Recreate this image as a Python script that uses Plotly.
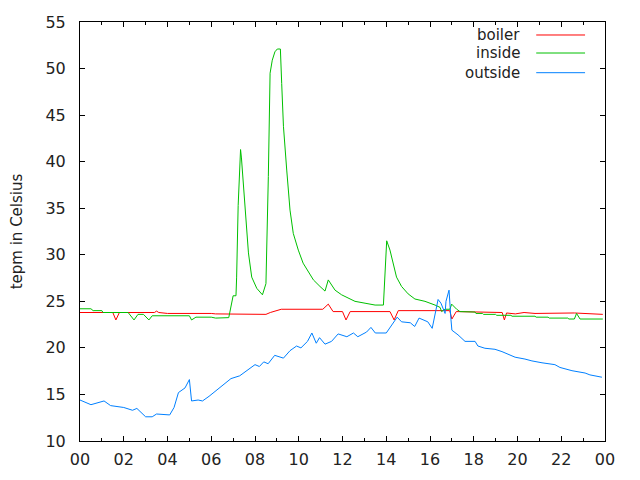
import plotly.graph_objects as go

# temperature log over one day, hours since midnight
boiler_t = [0.0, 1.5, 1.64, 1.8, 3.4, 3.5, 3.6, 4.0, 6.0, 6.2, 8.5, 8.7, 9.2, 11.1, 11.35,
            11.57, 12.0, 12.16, 12.35, 14.17, 14.36, 14.55, 16.9, 17.0, 17.2, 19.3, 19.4,
            19.5, 19.9, 20.3, 20.8, 22.0, 22.6, 23.9]
boiler_v = [23.8, 23.8, 23.0, 23.8, 23.8, 23.95, 23.8, 23.7, 23.7, 23.65, 23.6, 23.8, 24.15,
            24.15, 24.7, 23.9, 23.9, 23.0, 23.9, 23.9, 23.0, 24.0, 24.0, 23.1, 23.9, 23.8,
            23.0, 23.75, 23.65, 23.8, 23.7, 23.7, 23.75, 23.6]

inside_t = [0.0, 0.5, 0.6, 1.0, 1.05, 2.2, 2.47, 2.65, 2.9, 3.15, 3.3, 5.0, 5.1, 5.3, 6.0,
            6.2, 6.8, 6.93, 7.0, 7.13, 7.16, 7.23, 7.34, 7.38, 7.42, 7.5, 7.59, 7.7, 7.85,
            8.08, 8.34, 8.5, 8.61, 8.69, 8.79, 8.91, 9.02, 9.16, 9.22, 9.3, 9.45, 9.6, 9.75,
            9.98, 10.2, 10.44, 10.67, 10.97, 11.2, 11.35, 11.66, 11.96, 12.27, 12.57, 13.03,
            13.49, 13.87, 13.94, 14.02, 14.17, 14.32, 14.47, 14.7, 15.0, 15.31, 15.77, 16.23,
            16.46, 16.53, 16.69, 16.91, 16.99, 17.22, 17.37, 18.06, 18.1, 18.4, 18.45, 19.0,
            19.05, 19.7, 19.75, 20.8, 20.85, 21.4, 21.45, 22.3, 22.35, 22.6, 22.7, 22.86, 23.9]
inside_v = [24.2, 24.2, 24.0, 24.0, 23.8, 23.8, 23.0, 23.6, 23.6, 23.0, 23.45, 23.45, 23.0,
            23.3, 23.3, 23.2, 23.25, 24.8, 25.6, 25.6, 27.6, 35.3, 41.3, 40.4, 39.1, 35.9,
            33.0, 30.2, 27.6, 26.4, 25.7, 26.9, 38.4, 49.5, 50.9, 51.8, 52.1, 52.1, 48.4,
            43.8, 39.1, 34.8, 32.3, 30.5, 29.1, 28.2, 27.3, 26.6, 26.1, 27.3, 26.2, 25.7,
            25.3, 25.0, 24.8, 24.6, 24.6, 28.0, 31.5, 30.5, 29.1, 27.6, 26.6, 25.8, 25.25,
            25.0, 24.6, 24.35, 23.9, 24.15, 24.15, 24.7, 24.15, 23.9, 23.85, 23.7, 23.7,
            23.6, 23.6, 23.5, 23.5, 23.4, 23.4, 23.3, 23.3, 23.2, 23.2, 23.1, 23.1, 23.7,
            23.1, 23.1]

outside_t = [0.0, 0.5, 1.1, 1.4, 2.0, 2.4, 2.6, 3.0, 3.3, 3.5, 4.1, 4.3, 4.5, 4.8, 5.0, 5.1,
             5.4, 5.6, 5.9, 6.2, 6.5, 6.9, 7.3, 7.6, 8.0, 8.2, 8.4, 8.6, 8.9, 9.3, 9.6, 9.9,
             10.1, 10.4, 10.6, 10.8, 10.95, 11.2, 11.5, 11.8, 12.2, 12.5, 12.7, 13.1, 13.3,
             13.5, 14.0, 14.5, 14.7, 15.1, 15.3, 15.5, 15.9, 16.1, 16.37, 16.5, 16.69, 16.73,
             16.87, 16.96, 17.0, 17.28, 17.6, 18.06, 18.19, 18.51, 18.97, 19.29, 19.57, 19.89,
             20.34, 20.66, 21.12, 21.71, 21.94, 22.49, 23.09, 23.31, 23.86]
outside_v = [14.4, 13.9, 14.3, 13.8, 13.6, 13.3, 13.5, 12.6, 12.6, 12.9, 12.8, 13.6, 15.2,
             15.7, 16.6, 14.3, 14.4, 14.3, 14.8, 15.4, 16.0, 16.7, 17.0, 17.5, 18.2, 18.0,
             18.5, 18.3, 19.2, 18.9, 19.7, 20.2, 20.0, 20.7, 21.6, 20.5, 21.1, 20.4, 20.7,
             21.5, 21.2, 21.6, 21.2, 21.7, 22.2, 21.6, 21.6, 23.3, 22.8, 22.7, 22.3, 23.2,
             22.8, 22.1, 25.2, 24.8, 23.7, 25.0, 26.2, 23.0, 21.9, 21.4, 20.7, 20.7, 20.2,
             19.96, 19.85, 19.6, 19.3, 19.0, 18.8, 18.6, 18.4, 18.2, 17.9, 17.55, 17.3,
             17.1, 16.85]

hour_ticks = list(range(0, 25, 2))
hour_labels = ["%02d" % (h % 24) for h in hour_ticks]

series = [("boiler", boiler_t, boiler_v, "#ff0000"),
          ("inside", inside_t, inside_v, "#00c000"),
          ("outside", outside_t, outside_v, "#0080ff")]

fnt = dict(family="DejaVu Sans", size=16, color="#222222")

fig = go.Figure()
for name, t, v, col in series:
    fig.add_trace(go.Scatter(x=t, y=v, mode="lines", name=name,
                             line=dict(color=col, width=1)))

# gnuplot style key: right aligned text, line sample on the right
key_y = [0.969, 0.926, 0.879]
for (name, t, v, col), ky in zip(series, key_y):
    fig.add_annotation(x=0.842, y=ky, xref="paper", yref="paper", text=name,
                       showarrow=False, xanchor="right", yanchor="middle",
                       font=dict(fnt, size=15))
    fig.add_shape(type="line", xref="paper", yref="paper", x0=0.869, x1=0.962,
                  y0=ky, y1=ky, line=dict(color=col, width=1))

axis = dict(showline=True, linecolor="black", linewidth=1, mirror="ticks",
            ticks="inside", ticklen=5, tickcolor="black", showgrid=False,
            zeroline=False, tickfont=fnt, automargin=False)

# the page body adds an 8px offset, so the figure is sized 624x464
fig.update_layout(
    width=624, height=464,
    margin=dict(l=72, r=27, t=14, b=31),
    paper_bgcolor="white", plot_bgcolor="white",
    showlegend=False,
    xaxis=dict(axis, range=[0, 24], tickvals=hour_ticks, ticktext=hour_labels,
               ticklabelstandoff=4,
               minor=dict(ticks="inside", ticklen=3, dtick=1, tickcolor="black")),
    yaxis=dict(axis, range=[10, 55], dtick=5, ticklabelstandoff=10,
               title=dict(text="tepm in Celsius", font=dict(fnt, size=15), standoff=32)),
)

fig.write_html("out.html")
